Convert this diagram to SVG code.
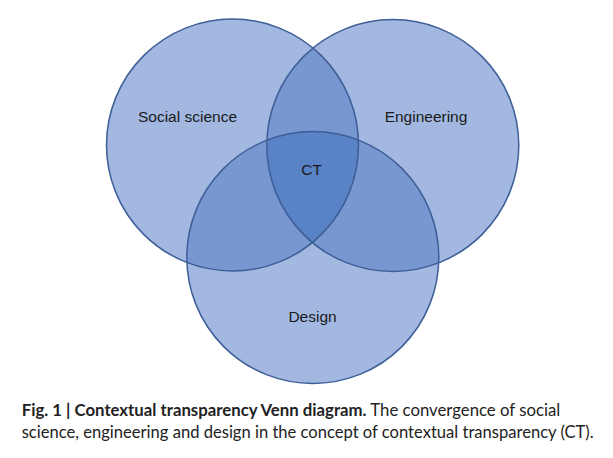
<svg xmlns="http://www.w3.org/2000/svg" width="613" height="458" viewBox="0 0 613 458">
<style>
.single{fill:#A2B8E1}
.double{fill:#7897D0}
.triple{fill:#5A82C7}
.ring{fill:none;stroke:#3D5E96;stroke-width:1.5}
.lbl{font-family:"Liberation Sans",Arial,sans-serif;font-size:15.5px;fill:#1a1a1a;text-anchor:middle}
.cap{font-family:Lato,"Liberation Sans",sans-serif;font-size:17px;fill:#222}
.b{font-weight:bold}
</style>
<defs>
<circle id="cL" cx="232.5" cy="145" r="126"/>
<circle id="cR" cx="392.8" cy="145.5" r="126"/>
<circle id="cB" cx="312.8" cy="257.5" r="126"/>
<clipPath id="clipL"><use href="#cL"/></clipPath>
<clipPath id="clipR"><use href="#cR"/></clipPath>
<clipPath id="clipLR" clip-path="url(#clipL)"><use href="#cR"/></clipPath>
</defs>
<g id="fills">
<use href="#cL" class="single"/>
<use href="#cR" class="single"/>
<use href="#cB" class="single"/>
<use href="#cR" class="double" clip-path="url(#clipL)"/>
<use href="#cB" class="double" clip-path="url(#clipL)"/>
<use href="#cB" class="double" clip-path="url(#clipR)"/>
<use href="#cB" class="triple" clip-path="url(#clipLR)"/>
</g>
<g id="social-science">
<use href="#cL" class="ring"/>
<text class="lbl" x="187.5" y="122">Social science</text>
</g>
<g id="engineering">
<use href="#cR" class="ring"/>
<text class="lbl" x="426" y="122">Engineering</text>
</g>
<g id="design">
<use href="#cB" class="ring"/>
<text class="lbl" x="312.5" y="322">Design</text>
</g>
<g id="ct">
<text class="lbl" x="311.7" y="175">CT</text>
</g>
<g id="caption">
<text class="cap" x="21.7" y="415.7" textLength="538.5" lengthAdjust="spacingAndGlyphs"><tspan class="b">Fig. 1 | Contextual transparency Venn diagram.</tspan> The convergence of social</text>
<text class="cap" x="21.7" y="437.7" textLength="572" lengthAdjust="spacingAndGlyphs">science, engineering and design in the concept of contextual transparency (CT).</text>
</g>
</svg>
